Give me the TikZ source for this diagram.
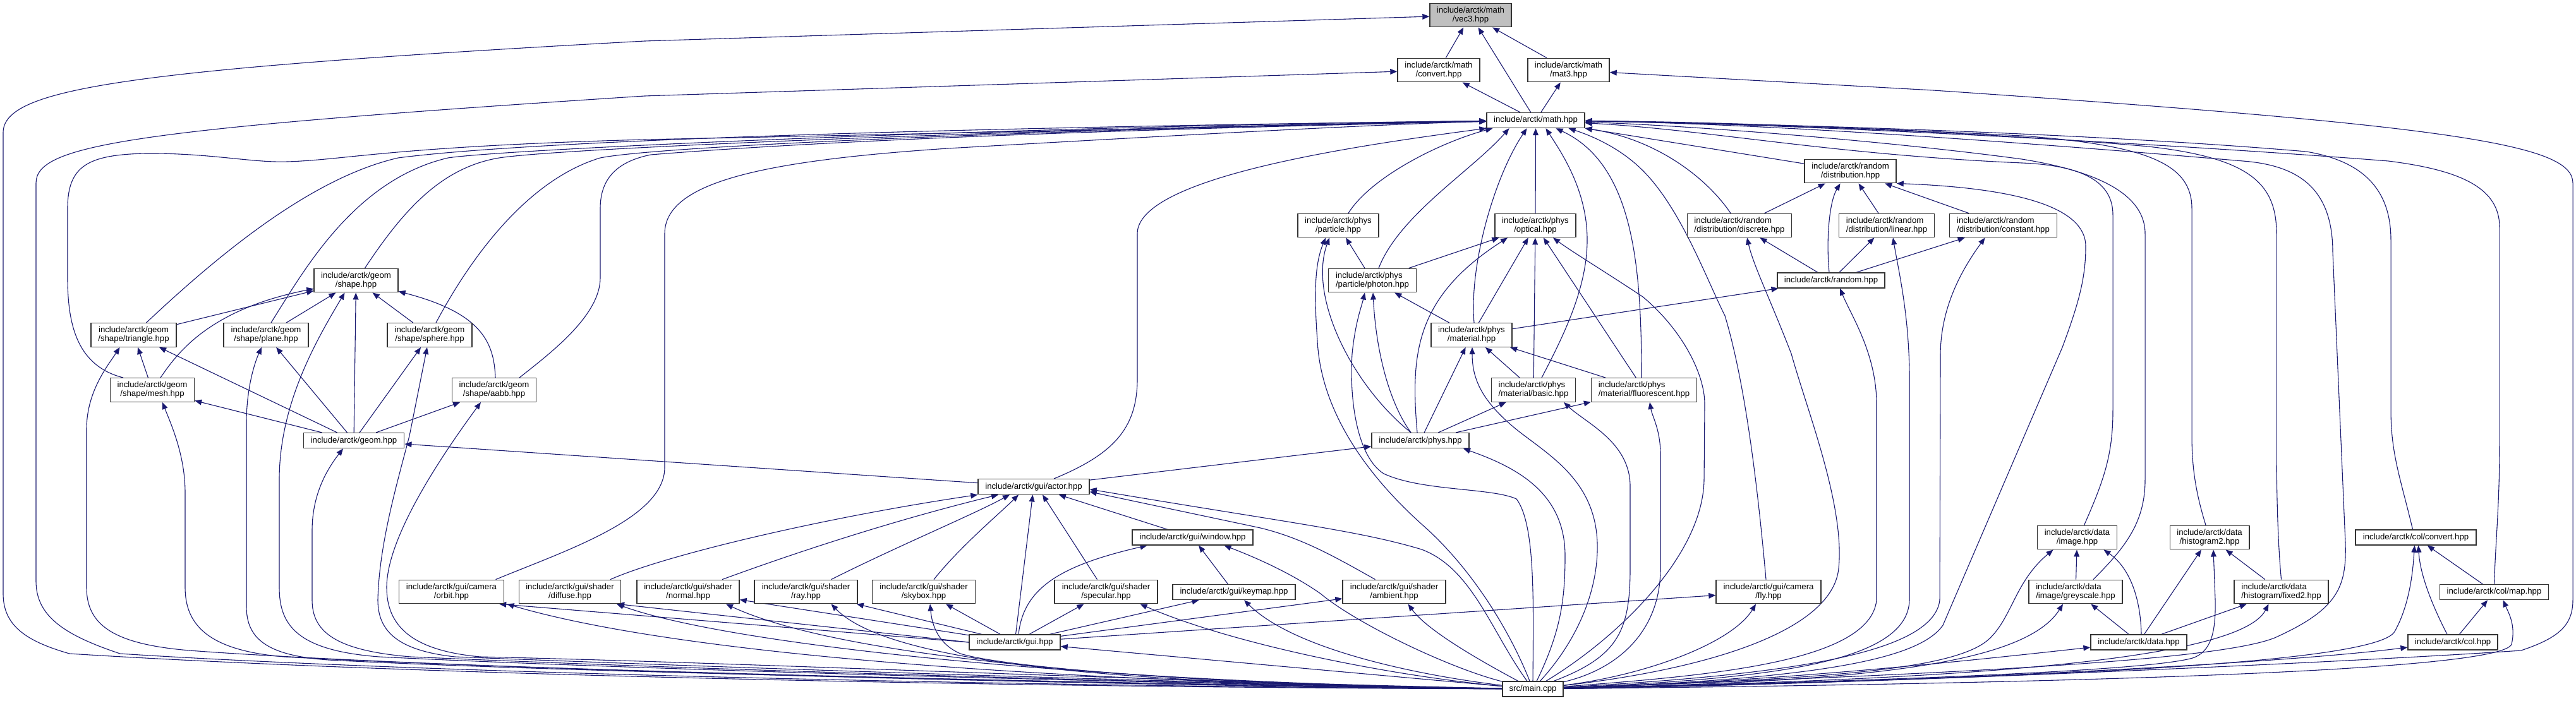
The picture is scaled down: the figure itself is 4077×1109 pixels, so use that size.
\documentclass[tikz,border=0pt]{standalone}
\usepackage{fontspec}
\setmainfont{Liberation Sans}
\usetikzlibrary{arrows.meta}
\pgfdeclarelayer{bg}
\pgfsetlayers{bg,main}
\definecolor{edgecol}{RGB}{25,25,112}
\begin{document}
\begin{tikzpicture}[x=0.5pt,y=-0.5pt,
  box/.style={draw=black!80, line width=0.7pt, fill=white, inner xsep=0pt, inner ysep=0pt,
              font=\fontsize{6.6}{7}\selectfont, align=center, text=black},
  hbtwo/.style={minimum height=18.75pt},
  hbone/.style={minimum height=12pt},
  lft/.style={align=left},
  ed/.style={draw=edgecol, line width=0.55pt, -{Triangle[length=5.5pt,width=4.4pt]}}]
\begin{pgfonlayer}{bg}
\fill[white] (0,0) rectangle (4077,1109);
\end{pgfonlayer}
\useasboundingbox (0,0) rectangle (4077,1109);
% ---------- nodes ----------
\node[box,hbtwo,fill=black!25,minimum width=64.5pt] (vec3) at (2327.5,24) {include/arctk/math\\/vec3.hpp};
\node[box,hbtwo,minimum width=65pt] (convert) at (2277,111) {include/arctk/math\\/convert.hpp};
\node[box,hbtwo,minimum width=64.5pt] (mat3) at (2482.5,111) {include/arctk/math\\/mat3.hpp};
\node[box,hbone,minimum width=77.5pt] (math) at (2430.5,190.5) {include/arctk/math.hpp};
\node[box,hbtwo,minimum width=64pt] (particle) at (2118,357) {include/arctk/phys\\/particle.hpp};
\node[box,hbtwo,minimum width=64pt] (optical) at (2430,357) {include/arctk/phys\\/optical.hpp};
\node[box,hbtwo,lft,minimum width=82.75pt] (discrete) at (2753,357) {include/arctk/random\\/distribution/discrete.hpp};
\node[box,hbtwo,lft,minimum width=75.25pt] (linear) at (2986,357) {include/arctk/random\\/distribution/linear.hpp};
\node[box,hbtwo,lft,minimum width=85pt] (constant) at (3170.5,357) {include/arctk/random\\/distribution/constant.hpp};
\node[box,hbtwo,minimum width=72.5pt] (distribution) at (2928.5,271) {include/arctk/random\\/distribution.hpp};
\node[box,hbone,minimum width=85pt] (random) at (2898,444) {include/arctk/random.hpp};
\node[box,hbtwo,lft,minimum width=69.25pt] (photon) at (2172,444) {include/arctk/phys\\/particle/photon.hpp};
\node[box,hbtwo,minimum width=64pt] (material) at (2329,530.5) {include/arctk/phys\\/material.hpp};
\node[box,hbtwo,lft,minimum width=66.5pt] (basic) at (2427,617.5) {include/arctk/phys\\/material/basic.hpp};
\node[box,hbtwo,lft,minimum width=83.5pt] (fluorescent) at (2602,617.5) {include/arctk/phys\\/material/fluorescent.hpp};
\node[box,hbone,minimum width=77pt] (phys) at (2248,697.6) {include/arctk/phys.hpp};
\node[box,hbtwo,minimum width=81.5pt] (ambient) at (2206.5,937) {include/arctk/gui/shader\\/ambient.hpp};
\node[box,hbtwo,minimum width=83pt] (fly) at (2799,937) {include/arctk/gui/camera\\/fly.hpp};
\node[box,hbone,minimum width=48pt] (main) at (2426,1091) {src/main.cpp};
\node[box,hbtwo,minimum width=62.75pt] (image) at (3287.5,851) {include/arctk/data\\/image.hpp};
\node[box,hbtwo,minimum width=62.75pt] (histogram2) at (3497,851) {include/arctk/data\\/histogram2.hpp};
\node[box,hbone,minimum width=95.5pt] (colconvert) at (3823.5,851) {include/arctk/col/convert.hpp};
\node[box,hbtwo,lft,minimum width=74pt] (greyscale) at (3285,937) {include/arctk/data\\/image/greyscale.hpp};
\node[box,hbtwo,lft,minimum width=74.5pt] (fixed2) at (3610.5,937) {include/arctk/data\\/histogram/fixed2.hpp};
\node[box,hbone,minimum width=86pt] (colmap) at (3947.5,937.5) {include/arctk/col/map.hpp};
\node[box,hbone,minimum width=76pt] (data) at (3385,1017) {include/arctk/data.hpp};
\node[box,hbone,minimum width=71pt] (col) at (3882,1017) {include/arctk/col.hpp};
\node[box,hbone,minimum width=88pt] (actor) at (1636,770.7) {include/arctk/gui/actor.hpp};
\node[box,hbone,minimum width=95.5pt] (window) at (1887.5,851) {include/arctk/gui/window.hpp};
\node[box,hbtwo,minimum width=81pt] (normal) at (1089,937) {include/arctk/gui/shader\\/normal.hpp};
\node[box,hbtwo,minimum width=81.5pt] (ray) at (1275.5,937) {include/arctk/gui/shader\\/ray.hpp};
\node[box,hbtwo,minimum width=81.5pt] (skybox) at (1462,937) {include/arctk/gui/shader\\/skybox.hpp};
\node[box,hbtwo,minimum width=81.5pt] (specular) at (1750.5,937) {include/arctk/gui/shader\\/specular.hpp};
\node[box,hbone,minimum width=97pt] (keymap) at (1953,937.5) {include/arctk/gui/keymap.hpp};
\node[box,hbone,minimum width=72pt] (gui) at (1606,1017) {include/arctk/gui.hpp};
\node[box,hbtwo,minimum width=66.5pt] (mesh) at (241,617.5) {include/arctk/geom\\/shape/mesh.hpp};
\node[box,hbtwo,minimum width=66.75pt] (aabb) at (782,617.5) {include/arctk/geom\\/shape/aabb.hpp};
\node[box,hbone,minimum width=79.75pt] (geom) at (560,697.6) {include/arctk/geom.hpp};
\node[box,hbtwo,minimum width=83pt] (orbit) at (714.5,937) {include/arctk/gui/camera\\/orbit.hpp};
\node[box,hbtwo,minimum width=80.5pt] (diffuse) at (902,937) {include/arctk/gui/shader\\/diffuse.hpp};
\node[box,hbtwo,minimum width=66.5pt] (shape) at (563.5,444) {include/arctk/geom\\/shape.hpp};
\node[box,hbtwo,minimum width=67.5pt] (triangle) at (211.5,530.5) {include/arctk/geom\\/shape/triangle.hpp};
\node[box,hbtwo,minimum width=67pt] (plane) at (421,530.5) {include/arctk/geom\\/shape/plane.hpp};
\node[box,hbtwo,minimum width=67pt] (sphere) at (680,530.5) {include/arctk/geom\\/shape/sphere.hpp};
% ---------- edges ----------
\begin{pgfonlayer}{bg}
% vec3 / convert / mat3
\draw[ed] (convert) -- (vec3);
\draw[ed] (math) -- (vec3);
\draw[ed] (mat3) -- (vec3);
\draw[ed] (math) -- (convert);
\draw[ed] (math) -- (mat3);
\draw[ed] (main) .. controls (1500,1088) and (600,1066) .. (110,1035) .. controls (40,1015) and (5,990) .. (5,940) -- (5,210) .. controls (5,140) and (200,110) .. (1020,65) -- (vec3);
\draw[ed] (main) .. controls (1500,1086) and (600,1062) .. (190,1035) .. controls (100,1005) and (57,975) .. (57,920) -- (57,290) .. controls (57,230) and (200,205) .. (1020,152) -- (convert);
\draw[ed] (main) .. controls (2900,1085) and (3700,1050) .. (3990,1030) .. controls (4050,1010) and (4072,990) .. (4072,950) -- (4072,290) .. controls (4072,230) and (3900,200) .. (3060,143) -- (mat3);
% into math from the left
\draw[ed] ([xshift=-23pt]mesh.north) .. controls (125,580) and (107,520) .. (107,440) -- (107,330) .. controls (107,262) and (140,245) .. (230,243) .. controls (330,242) and (400,258) .. (455,256) .. controls (550,253) and (620,232) .. (1020,221) .. controls (1800,205) and (2200,194) .. (math);
\draw[ed] ([xshift=10pt]triangle.north) .. controls (360,390) and (500,280) .. (630,250) .. controls (900,215) and (1800,198) .. (math);
\draw[ed] ([xshift=4pt]plane.north) .. controls (480,430) and (560,285) .. (709,250) .. controls (800,236) and (1600,200) .. (math);
\draw[ed] ([xshift=7pt]shape.north) .. controls (640,330) and (700,265) .. (790,250) .. controls (900,233) and (1700,202) .. (math);
\draw[ed] ([xshift=5pt]sphere.north) .. controls (760,380) and (850,280) .. (950,250) .. controls (1050,230) and (1700,204) .. (math);
\draw[ed] ([xshift=20pt]aabb.north) .. controls (870,560) and (950,500) .. (950,440) -- (950,330) .. controls (950,280) and (980,255) .. (1030,245) .. controls (1400,215) and (2000,200) .. (math);
\draw[ed] ([xshift=35pt]orbit.north) .. controls (900,870) and (1052,820) .. (1052,740) -- (1052,370) .. controls (1052,290) and (1200,255) .. (1500,235) .. controls (1900,212) and (2200,196) .. (math);
\draw[ed] ([xshift=16pt]actor.north) .. controls (1760,720) and (1800,680) .. (1800,600) -- (1800,370) .. controls (1800,280) and (2150,230) .. (math.south west);
\draw[ed] ([xshift=8pt]particle.north) .. controls (2170,280) and (2280,225) .. ([xshift=5pt]math.south west);
\draw[ed] ([xshift=5pt]photon.north) .. controls (2215,340) and (2330,270) .. ([xshift=-21pt]math.south);
\draw[ed] ([xshift=2pt]material.north) .. controls (2325,420) and (2365,280) .. ([xshift=-7pt]math.south);
\draw[ed] (optical) -- (math);
\draw[ed] ([xshift=6.5pt]basic.north) .. controls (2470,540) and (2512,460) .. (2512,380) .. controls (2512,300) and (2470,240) .. ([xshift=8pt]math.south);
\draw[ed] ([xshift=-2pt]fluorescent.north) .. controls (2598,420) and (2585,260) .. ([xshift=16pt]math.south);
\draw[ed] ([xshift=-2pt]fly.north) .. controls (2780,750) and (2760,600) .. (2730,500) .. controls (2700,440) and (2660,330) .. (2600,270) .. controls (2560,230) and (2510,212) .. ([xshift=26pt]math.south);
\draw[ed] ([xshift=-7pt]discrete.north) .. controls (2700,280) and (2620,220) .. (math.south east);
\draw[ed] (distribution) -- (math);
% into math from the right
\draw[ed] ([xshift=5.5pt]image.north) .. controls (3330,760) and (3344,720) .. (3344,650) -- (3344,340) .. controls (3344,290) and (3300,262) .. (3200,258) .. controls (2900,245) and (2700,205) .. (math);
\draw[ed] ([xshift=14pt]greyscale.north) .. controls (3360,870) and (3395,830) .. (3395,760) -- (3395,370) .. controls (3395,300) and (3300,268) .. (3200,252) .. controls (3000,225) and (2700,200) .. (math);
\draw[ed] ([xshift=-3pt]histogram2.north) .. controls (3475,780) and (3469,740) .. (3469,690) -- (3469,330) .. controls (3469,260) and (3400,230) .. (3200,215) .. controls (2900,200) and (2700,193) .. (math);
\draw[ed] (fixed2.north) .. controls (3606,870) and (3603,800) .. (3603,700) -- (3603,370) .. controls (3603,290) and (3560,250) .. (3400,232) .. controls (3100,205) and (2700,195) .. (math);
\draw[ed] ([xshift=-2.5pt]colconvert.north) .. controls (3800,760) and (3784,720) .. (3784,650) -- (3784,380) .. controls (3784,300) and (3740,255) .. (3650,240) .. controls (3300,210) and (2800,196) .. (math);
\draw[ed] (colmap.north) .. controls (3950,850) and (3956,800) .. (3956,700) -- (3956,360) .. controls (3956,300) and (3900,270) .. (3780,255) .. controls (3400,225) and (2800,195) .. (math);
\draw[ed] (main) .. controls (3000,1070) and (3500,1050) .. (3600,1010) .. controls (3700,965) and (3714,930) .. (3712,860) -- (3692,400) .. controls (3692,300) and (3640,262) .. (3550,255) .. controls (3200,225) and (2800,196) .. (math);
% random
\draw[ed] (discrete) -- (distribution);
\draw[ed] ([xshift=-1.5pt]random.north) .. controls (2890,380) and (2895,320) .. ([xshift=-8pt]distribution.south);
\draw[ed] (random) -- (discrete);
\draw[ed] (random) -- (linear);
\draw[ed] (random) -- (constant);
\draw[ed] (linear) -- (distribution);
\draw[ed] (constant) -- (distribution);
\draw[ed] (material) -- (random);
\draw[ed] (main) .. controls (2700,1060) and (2900,1000) .. (2910,900) .. controls (2920,800) and (2860,650) .. (2835,560) .. controls (2800,470) and (2775,420) .. ([xshift=6pt]discrete.south);
\draw[ed] (main) .. controls (2700,1070) and (2960,1050) .. (2970,950) -- (2970,640) .. controls (2970,560) and (2930,500) .. ([xshift=7pt]random.south);
\draw[ed] (main) .. controls (2800,1075) and (3020,1050) .. (3022,950) -- (3022,600) .. controls (3022,500) and (3005,430) .. ([xshift=5pt]linear.south);
\draw[ed] (main) .. controls (2800,1070) and (3060,1040) .. (3070,950) -- (3071,560) .. controls (3072,480) and (3110,420) .. ([xshift=-14.5pt]constant.south);
\draw[ed] (main) .. controls (2900,1075) and (3040,1040) .. (3075,990) -- (3264,550) .. controls (3290,480) and (3301,440) .. (3301,390) .. controls (3301,330) and (3200,298) .. (distribution.south east);
% data / col
\draw[ed] (greyscale) -- (image);
\draw[ed] ([xshift=2pt]data.north) .. controls (3388,950) and (3372,900) .. ([xshift=21pt]image.south);
\draw[ed] (data) -- (greyscale);
\draw[ed] (data) -- (histogram2);
\draw[ed] (data) -- (fixed2);
\draw[ed] (fixed2) -- (histogram2);
\draw[ed] ([xshift=-4.5pt]col.north) .. controls (3850,960) and (3830,910) .. ([xshift=2pt]colconvert.south);
\draw[ed] (col) -- (colmap);
\draw[ed] (colmap) -- (colconvert);
\draw[ed] (main) .. controls (2900,1075) and (3100,1060) .. (3150,1010) .. controls (3185,975) and (3190,920) .. ([xshift=-19pt]image.south);
\draw[ed] (main) .. controls (2900,1080) and (3200,1060) .. ([xshift=-10pt]greyscale.south);
\draw[ed] (main) .. controls (2800,1080) and (3100,1048) .. ([yshift=-4pt]data.west);
\draw[ed] (main) .. controls (3000,1078) and (3400,1062) .. (3470,1042) .. controls (3500,1032) and (3507,1000) .. (3506,950) -- ([xshift=3pt]histogram2.south);
\draw[ed] (main) .. controls (3000,1078) and (3540,1055) .. ([xshift=-10pt]fixed2.south);
\draw[ed] (main) .. controls (3200,1075) and (3760,1052) .. (3790,1000) .. controls (3815,955) and (3819,900) .. ([xshift=-1pt]colconvert.south);
\draw[ed] (main) .. controls (3300,1082) and (3960,1062) .. (3975,1020) .. controls (3982,990) and (3970,970) .. ([xshift=7pt]colmap.south);
\draw[ed] (main) .. controls (3000,1082) and (3600,1052) .. ([yshift=-4pt]col.west);
% phys
\draw[ed] (photon) -- (particle);
\draw[ed] ([xshift=-7.5pt]phys.north) .. controls (2140,610) and (2070,470) .. ([xshift=-7pt]particle.south);
\draw[ed] ([xshift=-7.5pt]phys.north) .. controls (2200,640) and (2178,560) .. ([xshift=0.5pt]photon.south);
\draw[ed] ([xshift=-2.5pt]phys.north) .. controls (2232,560) and (2240,470) .. ([xshift=-22pt]optical.south);
\draw[ed] (phys) -- (material);
\draw[ed] (phys) -- (basic);
\draw[ed] (phys) -- (fluorescent);
\draw[ed] (photon) -- (optical);
\draw[ed] (material) -- (photon);
\draw[ed] (material) -- (optical);
\draw[ed] (basic) -- (optical);
\draw[ed] (fluorescent) -- (optical);
\draw[ed] (basic) -- (material);
\draw[ed] (fluorescent) -- (material);
\draw[ed] (main) .. controls (2390,1000) and (2330,900) .. (2250,830) .. controls (2150,740) and (2090,640) .. (2085,540) .. controls (2080,470) and (2080,420) .. ([xshift=-10pt]particle.south);
\draw[ed] (main.north) .. controls (2427,950) and (2430,830) .. (2400,790) .. controls (2360,772) and (2250,778) .. (2190,750) .. controls (2150,725) and (2135,640) .. (2140,560) .. controls (2145,510) and (2155,485) .. ([xshift=-6pt]photon.south);
\draw[ed] (main) .. controls (2560,1010) and (2695,880) .. (2697,760) -- (2698,640) .. controls (2698,590) and (2660,520) .. (2600,470) .. controls (2540,430) and (2490,400) .. ([xshift=14pt]optical.south);
\draw[ed] (main) .. controls (2500,1010) and (2530,930) .. (2528,860) .. controls (2525,760) and (2450,720) .. (2400,680) .. controls (2345,635) and (2330,600) .. ([xshift=0.5pt]material.south);
\draw[ed] (main) .. controls (2560,1040) and (2580,1000) .. (2580,900) -- (2580,770) .. controls (2580,700) and (2510,670) .. ([xshift=24pt]basic.south);
\draw[ed] (main) .. controls (2560,1060) and (2628,1000) .. (2628,900) -- (2628,720) .. controls (2628,680) and (2615,660) .. ([xshift=4.5pt]fluorescent.south);
\draw[ed] (main) .. controls (2470,1000) and (2477,950) .. (2477,880) .. controls (2477,780) and (2400,740) .. ([xshift=34pt]phys.south);
\draw[ed] (main) .. controls (2600,1070) and (2740,1020) .. ([xshift=-10pt]fly.south);
% gui
\draw[ed] (main) -- (gui);
\draw[ed] (main) .. controls (2300,1060) and (2150,990) .. (2090,940) .. controls (2040,905) and (1980,880) .. ([xshift=25pt]window.south);
\draw[ed] (main) .. controls (2250,1070) and (2050,1030) .. ([xshift=8pt]keymap.south);
\draw[ed] (main) .. controls (2350,1050) and (2260,1000) .. ([xshift=11pt]ambient.south);
\draw[ed] (main) .. controls (2360,1000) and (2330,900) .. (2250,870) .. controls (2150,840) and (2040,828) .. ([yshift=-2pt]actor.east);
\draw[ed] ([xshift=-15pt]ambient.north) .. controls (2110,880) and (2060,852) .. (1995,836) -- ([yshift=-4pt]actor.east);
\draw[ed] (main) .. controls (1600,1080) and (1050,1030) .. ([xshift=44pt]orbit.south);
\draw[ed] (main) .. controls (1700,1080) and (1150,1020) .. ([xshift=37pt]diffuse.south);
\draw[ed] (main) .. controls (1900,1085) and (1350,1050) .. ([xshift=30pt]normal.south);
\draw[ed] (main) .. controls (1900,1085) and (1420,1065) .. ([xshift=20pt]ray.south);
\draw[ed] (main) .. controls (2000,1088) and (1600,1060) .. (1520,1035) .. controls (1485,1020) and (1475,990) .. ([xshift=5pt]skybox.south);
\draw[ed] (main) .. controls (2200,1070) and (1950,1020) .. ([xshift=27pt]specular.south);
\draw[ed] (gui) -- (actor);
\draw[ed] ([xshift=3pt]gui.north) .. controls (1620,930) and (1680,895) .. ([xshift=-36pt]window.south);
\draw[ed] (gui) -- (keymap);
\draw[ed] (gui) -- (normal);
\draw[ed] (gui) -- (ray);
\draw[ed] (gui) -- (skybox);
\draw[ed] (gui) -- (specular);
\draw[ed] (gui.west) -- ([xshift=-3pt]diffuse.south east);
\draw[ed] (gui.west) -- ([xshift=-4pt]orbit.south east);
\draw[ed] (gui) -- (ambient);
\draw[ed] (gui) -- (fly);
\draw[ed] (window) -- (actor);
\draw[ed] (keymap) -- (window);
\draw[ed] ([xshift=32pt]diffuse.north) .. controls (1050,880) and (1300,820) .. (actor.south west);
\draw[ed] ([xshift=27pt]normal.north) .. controls (1300,860) and (1450,815) .. ([xshift=-28pt]actor.south);
\draw[ed] ([xshift=20pt]ray.north) .. controls (1420,865) and (1540,815) .. ([xshift=-19pt]actor.south);
\draw[ed] ([xshift=8pt]skybox.north) .. controls (1520,865) and (1580,815) .. ([xshift=-12pt]actor.south);
\draw[ed] ([xshift=-7pt]specular.north) -- ([xshift=7pt]actor.south);
\draw[ed] (actor) -- (geom);
\draw[ed] (actor) -- (phys);
% geom
\draw[ed] (geom) -- (mesh);
\draw[ed] (geom) -- (triangle);
\draw[ed] (geom) -- (plane);
\draw[ed] (geom) -- (shape);
\draw[ed] (geom) -- (sphere);
\draw[ed] (geom) -- (aabb);
\draw[ed] (triangle) -- (shape);
\draw[ed] ([xshift=6.5pt]mesh.north) .. controls (280,560) and (330,490) .. (shape);
\draw[ed] (mesh) -- (triangle);
\draw[ed] (plane) -- (shape);
\draw[ed] (sphere) -- (shape);
\draw[ed] ([xshift=1pt]aabb.north) .. controls (782,540) and (760,495) .. (shape);
\draw[ed] (main) .. controls (1800,1085) and (800,1060) .. (450,1040) .. controls (330,1030) and (293,990) .. (293,930) -- (293,780) .. controls (293,720) and (270,670) .. ([xshift=8pt]mesh.south);
\draw[ed] (main) .. controls (1800,1087) and (700,1060) .. (300,1030) .. controls (180,1020) and (137,990) .. (137,930) -- (137,680) .. controls (137,620) and (170,580) .. ([xshift=-11pt]triangle.south);
\draw[ed] (main) .. controls (1800,1083) and (900,1065) .. (520,1045) .. controls (420,1038) and (390,1010) .. (390,960) -- (390,670) .. controls (390,610) and (405,570) .. ([xshift=-3.5pt]plane.south);
\draw[ed] (main) .. controls (1800,1082) and (1000,1060) .. (600,1040) .. controls (470,1030) and (442,990) .. (442,930) -- (442,760) .. controls (442,640) and (500,540) .. ([xshift=-9pt]shape.south);
\draw[ed] (main) .. controls (1800,1081) and (1100,1060) .. (650,1040) .. controls (530,1030) and (494,1000) .. (494,950) -- (494,840) .. controls (494,780) and (520,740) .. ([xshift=-8.5pt]geom.south);
\draw[ed] (main) .. controls (1800,1080) and (1100,1055) .. (720,1040) .. controls (630,1030) and (598,1000) .. (598,950) .. controls (600,860) and (630,760) .. (648,690) -- ([xshift=-2pt]sphere.south);
\draw[ed] (main) .. controls (1800,1078) and (1200,1050) .. (760,1040) .. controls (650,1030) and (612,990) .. (612,930) .. controls (612,850) and (700,720) .. ([xshift=-10.5pt]aabb.south);
\end{pgfonlayer}
\end{tikzpicture}
\end{document}
